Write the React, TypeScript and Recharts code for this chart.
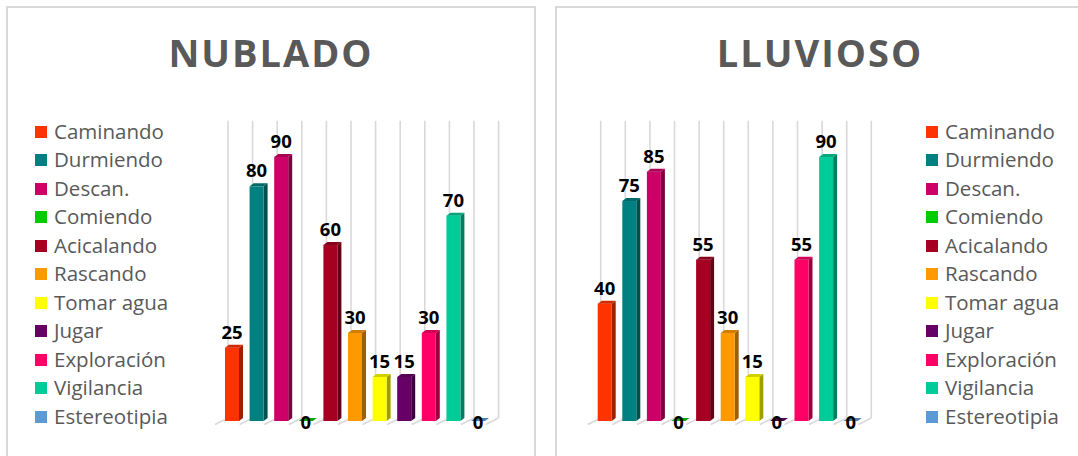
import React from 'react';
import { BarChart, Bar, XAxis, YAxis, CartesianGrid, Cell, LabelList } from 'recharts';

// Behaviour categories, shared by both panels
const categories = [
  'Caminando',
  'Durmiendo',
  'Descan.',
  'Comiendo',
  'Acicalando',
  'Rascando',
  'Tomar agua',
  'Jugar',
  'Exploración',
  'Vigilancia',
  'Estereotipia',
];

const colors = [
  '#FF3300',
  '#008080',
  '#CC0066',
  '#00CC00',
  '#A50021',
  '#FF9900',
  '#FFFF00',
  '#660066',
  '#FF0066',
  '#00CC99',
  '#5B9BD5',
];

const nubladoValues = [25, 80, 90, 0, 60, 30, 15, 15, 30, 70, 0];
const lluviosoValues = [40, 75, 85, 0, 55, 30, 15, 0, 55, 90, 0];

const FONT = '"Open Sans", sans-serif';
const GRID = '#d9d9d9';
const DX = 4;
const DY = 3;

function darken(hex: string, k: number) {
  const n = parseInt(hex.slice(1), 16);
  const r = Math.round(((n >> 16) & 255) * k);
  const g = Math.round(((n >> 8) & 255) * k);
  const b = Math.round((n & 255) * k);
  return `rgb(${r},${g},${b})`;
}

// Column drawn with a fake 3D look: front, side and top faces
function Column3D(props: any) {
  const { x, y, width, height, fill } = props;
  const w = width;
  const h = Math.max(height, 0);
  return (
    <g>
      <polygon
        points={`${x + w},${y} ${x + w + DX},${y - DY} ${x + w + DX},${y + h - DY} ${x + w},${y + h}`}
        fill={darken(fill, 0.62)}
      />
      <rect x={x} y={y} width={w} height={h} fill={fill} />
      <polygon
        points={`${x},${y} ${x + DX},${y - DY} ${x + w + DX},${y - DY} ${x + w},${y}`}
        fill={darken(fill, 0.82)}
      />
    </g>
  );
}

// Back wall gridline plus its floor segment
function GridLine3D(props: any) {
  const { x1, y1, y2 } = props;
  const xb = x1 + 8;
  return (
    <g key={props.key}>
      <line x1={xb} y1={y1 - 7} x2={xb} y2={y2 - 3} stroke={GRID} strokeWidth={1.6} />
      <line x1={xb} y1={y2 - 3} x2={xb - 13} y2={y2 + 3.5} stroke={GRID} strokeWidth={1.6} />
    </g>
  );
}

function ValueLabel(props: any) {
  const { x, y, width, value } = props;
  const by = value === 0 ? y + 8 : y - 9;
  return (
    <text x={x + width / 2} y={by} textAnchor="middle" fontFamily={FONT} fontWeight={700} fontSize={18.5} fill="#000">
      {value}
    </text>
  );
}

interface PanelProps {
  title: string;
  values: number[];
  left: number;
  plotLeft: number;
  legendLeft: number;
}

function Panel({ title, values, left, plotLeft, legendLeft }: PanelProps) {
  const width = 530;
  const plotWidth = 270.6;
  const data = categories.map((c, i) => ({ name: c, value: values[i] }));

  return (
    <>
      <div
        style={{
          position: 'absolute',
          left,
          top: 6,
          width,
          height: 470,
          borderTop: `2px solid ${GRID}`,
          borderLeft: `2px solid ${GRID}`,
          borderRight: `2px solid ${GRID}`,
          boxSizing: 'border-box',
        }}
      />
      <div
        style={{
          position: 'absolute',
          left,
          top: 33,
          width,
          textAlign: 'center',
          fontFamily: FONT,
          fontWeight: 700,
          fontSize: 38,
          lineHeight: '38px',
          letterSpacing: 2,
          color: '#595959',
        }}
      >
        {title}
      </div>
      <div style={{ position: 'absolute', left: legendLeft, top: 116.5 }}>
        {categories.map((c, i) => (
          <div key={c} style={{ position: 'relative', height: 28.5, lineHeight: '28.5px' }}>
            <span
              style={{ position: 'absolute', left: 0, top: 9, width: 12, height: 12, background: colors[i] }}
            />
            <span
              style={{
                position: 'absolute',
                left: 19,
                top: 0,
                fontFamily: FONT,
                fontSize: 20.5,
                color: '#595959',
                whiteSpace: 'nowrap',
              }}
            >
              {c}
            </span>
          </div>
        ))}
      </div>
      <div style={{ position: 'absolute', left, top: 0 }}>
        <BarChart
          width={width}
          height={456}
          data={data}
          margin={{ top: 127.7, bottom: 35, left: plotLeft - left, right: width - (plotLeft - left) - plotWidth }}
        >
          <CartesianGrid
            horizontal={false}
            vertical={GridLine3D}
            verticalCoordinatesGenerator={({ offset }: any) =>
              Array.from({ length: categories.length + 1 }, (_, i) => offset.left + (i * offset.width) / categories.length)
            }
          />
          <XAxis dataKey="name" hide />
          <YAxis domain={[0, 100]} hide />
          <Bar dataKey="value" barSize={14} shape={Column3D} isAnimationActive={false}>
            {data.map((d, i) => (
              <Cell key={d.name} fill={colors[i]} />
            ))}
            <LabelList dataKey="value" content={ValueLabel} />
          </Bar>
        </BarChart>
      </div>
    </>
  );
}

export default function App() {
  return (
    <div style={{ position: 'relative', width: 1078, height: 456, overflow: 'hidden', background: '#fff' }}>
      <style>{'body{margin:0}'}</style>
      <Panel title="NUBLADO" values={nubladoValues} left={6} plotLeft={220} legendLeft={35} />
      <Panel title="LLUVIOSO" values={lluviosoValues} left={555} plotLeft={592.7} legendLeft={926} />
    </div>
  );
}
